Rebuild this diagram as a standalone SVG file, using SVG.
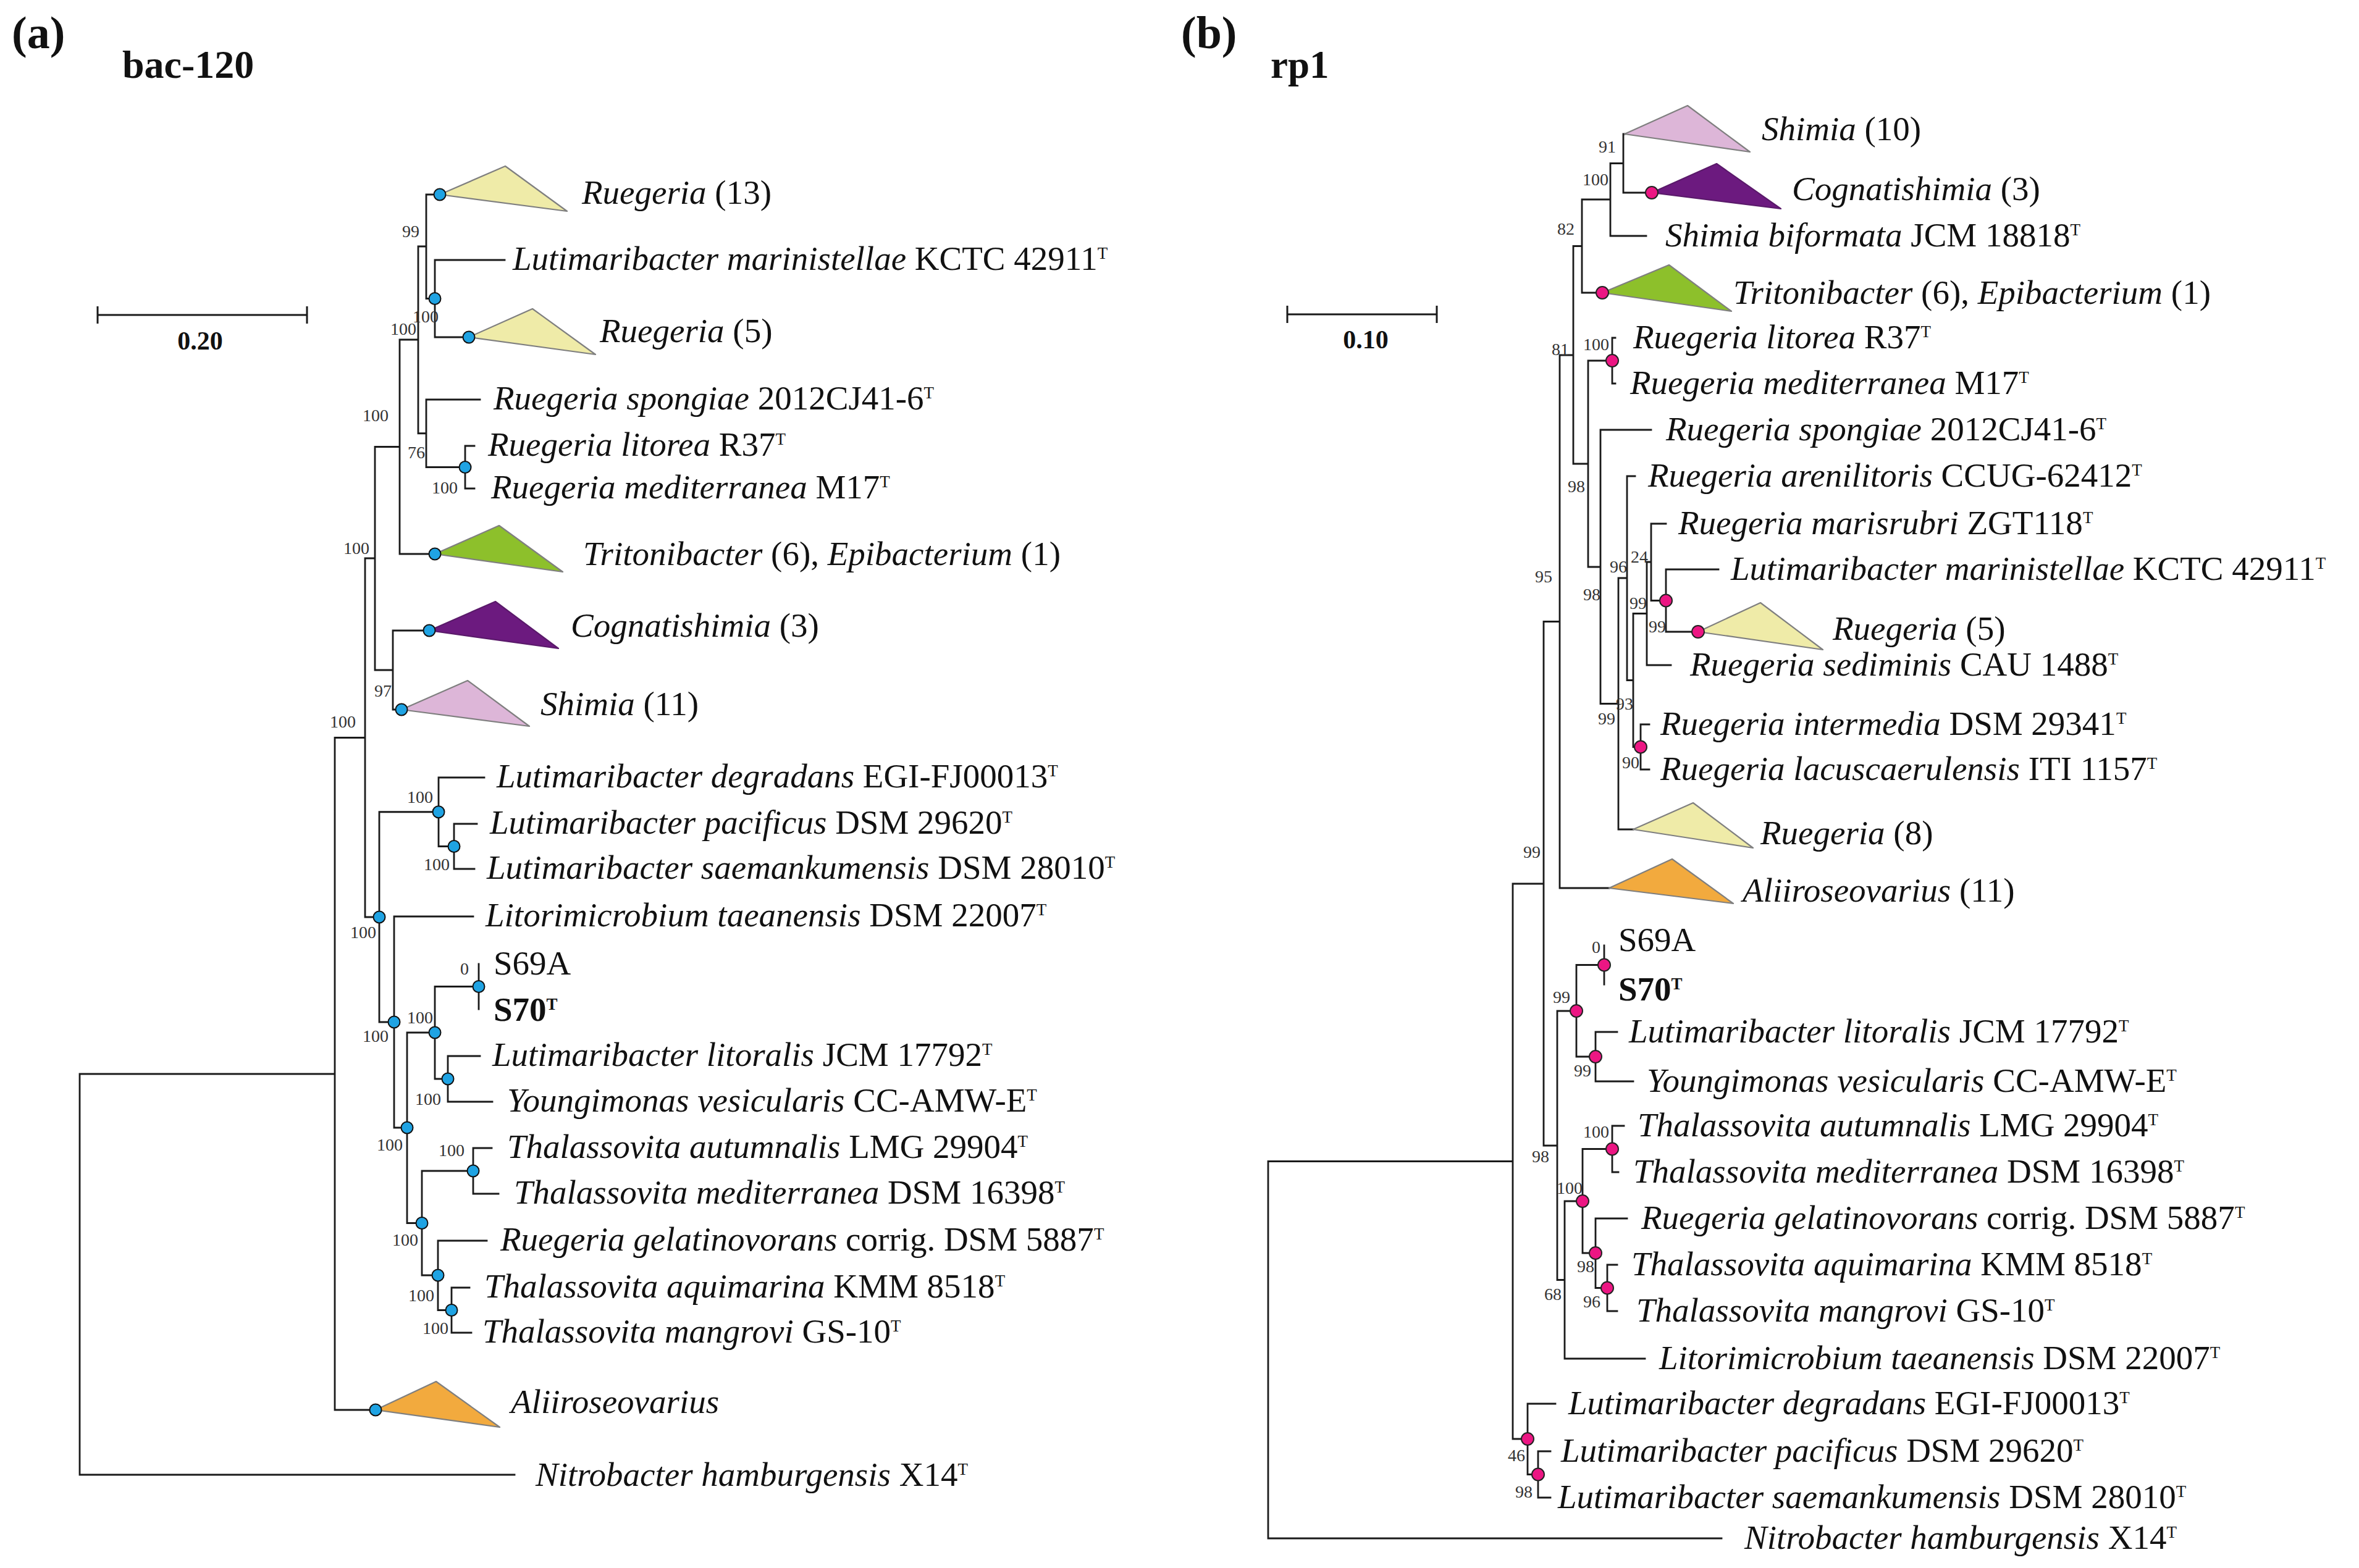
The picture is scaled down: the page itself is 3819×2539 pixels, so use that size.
<svg xmlns="http://www.w3.org/2000/svg" width="3819" height="2539" viewBox="0 0 3819 2539">
<style>
text{font-family:"Liberation Serif","Times New Roman",serif;fill:#111}
.t{font-size:55px}
.i{font-style:italic}
.sup{font-size:27px}
.bs{font-size:28px;fill:#333;text-anchor:end}
.hd{font-weight:bold}
.br{fill:none;stroke:#1a1a1a;stroke-width:2.8;stroke-linecap:square}
.sc{fill:none;stroke:#1a1a1a;stroke-width:3}
.na{fill:#1FA3E3;stroke:#111;stroke-width:2}
.nb{fill:#EC1683;stroke:#222;stroke-width:2}
.tri{stroke:#7f7f7f;stroke-width:2.2;stroke-linejoin:round}
.yel{fill:#EFEBA8}
.grn{fill:#8DC02B}
.pur{fill:#6C1A7F;stroke:#5a1a6a}
.lil{fill:#DDB6D8}
.org{fill:#F2AA3E}
</style>

<!-- Headers -->
<g id="header-a">
<text x="19" y="78" font-size="74" class="hd">(a)</text>
<text x="198" y="126" font-size="64" class="hd">bac-120</text>
</g>
<g id="header-b">
<text x="1912" y="78" font-size="74" class="hd">(b)</text>
<text x="2057" y="126" font-size="63" class="hd">rp1</text>
</g>

<!-- Scale bars -->
<g id="scale-a">
<path class="sc" d="M158,510 H497 M158,496 V524 M497,496 V524"/>
<text x="324" y="566" font-size="42" class="hd" text-anchor="middle">0.20</text>
</g>
<g id="scale-b">
<path class="sc" d="M2084,509 H2326 M2084,495 V523 M2326,495 V523"/>
<text x="2211" y="564" font-size="42" class="hd" text-anchor="middle">0.10</text>
</g>

<!-- Connectors -->
<g id="connectors-a">
<path class="br" d="
M129,1739 V2388 M129,1739 H542 M129,2388 H833
M542,1194.5 V2283 M542,1194.5 H591 M542,2283 H608
M591,904 V1485 M591,904 H607 M591,1485 H614
M607,723.5 V1085 M607,723.5 H647 M607,1085 H636
M647,550 V897 M647,550 H677 M647,897 H704
M677,399 V701.75 M677,399 H690 M677,701.75 H690
M690,315 V483.5 M690,315 H712 M690,483.5 H704
M704,421 V546 M704,421 H817 M704,546 H759
M690,647 V756.5 M690,647 H777 M690,756.5 H753
M753,722 V791 M753,722 H768 M753,791 H768
M636,1021 V1149 M636,1021 H695 M636,1149 H650
M614,1314.75 V1655 M614,1314.75 H710 M614,1655 H638
M710,1259 V1370.5 M710,1259 H784 M710,1370.5 H735
M735,1334 V1407 M735,1334 H772 M735,1407 H768
M638,1484 V1826 M638,1484 H766 M638,1826 H659
M659,1672 V1980.5 M659,1672 H704 M659,1980.5 H683
M704,1597.5 V1747 M704,1597.5 H775 M704,1747 H725
M775,1561 V1634
M725,1710 V1784 M725,1710 H777 M725,1784 H797
M683,1896 V2065 M683,1896 H766 M683,2065 H709
M766,1859 V1933 M766,1859 H796 M766,1933 H807
M709,2009 V2121.5 M709,2009 H788 M709,2121.5 H731
M731,2085 V2158 M731,2085 H760 M731,2158 H763"/>
</g>
<g id="connectors-b">
<path class="br" d="
M2053,1880.5 V2491 M2053,1880.5 H2449 M2053,2491 H2787
M2449,1431 V2330 M2449,1431 H2499 M2449,2330 H2473
M2499,1006.5 V1855 M2499,1006.5 H2525 M2499,1855 H2521
M2525,575 V1438 M2525,575 H2547 M2525,1438 H2605
M2547,398.5 V751 M2547,398.5 H2561 M2547,751 H2571
M2561,323 V474 M2561,323 H2607 M2561,474 H2594
M2607,264.5 V382 M2607,264.5 H2628 M2607,382 H2665
M2628,217 V312 M2628,217 H2630 M2628,312 H2674
M2571,584 V918 M2571,584 H2610 M2571,918 H2591
M2610,547 V621 M2610,547 H2615 M2610,621 H2615
M2591,696 V1139.5 M2591,696 H2673 M2591,1139.5 H2620
M2620,936 V1343 M2620,936 H2634 M2620,1343 H2644
M2634,771 V1101.5 M2634,771 H2647 M2634,1101.5 H2644
M2644,993.5 V1209.5 M2644,993.5 H2666 M2644,1209.5 H2656
M2666,910 V1077 M2666,910 H2673 M2666,1077 H2705
M2673,848 V972.5 M2673,848 H2697 M2673,972.5 H2697
M2697,922 V1023 M2697,922 H2782 M2697,1023 H2749
M2656,1173 V1246 M2656,1173 H2670 M2656,1246 H2670
M2521,1637 V2072.5 M2521,1637 H2552 M2521,2072.5 H2533
M2552,1562.5 V1711 M2552,1562.5 H2597 M2552,1711 H2583
M2597,1531 V1594
M2583,1671 V1751 M2583,1671 H2618 M2583,1751 H2644
M2533,1945 V2200 M2533,1945 H2562 M2533,2200 H2663
M2562,1860.5 V2029 M2562,1860.5 H2610 M2562,2029 H2583
M2610,1823 V1898 M2610,1823 H2629 M2610,1898 H2620
M2583,1973 V2085.5 M2583,1973 H2634 M2583,2085.5 H2602
M2602,2048 V2123 M2602,2048 H2618 M2602,2123 H2618
M2473,2273 V2387.5 M2473,2273 H2518 M2473,2387.5 H2490
M2490,2350 V2425 M2490,2350 H2510 M2490,2425 H2510"/>
</g>

<!-- Panel (a) collapsed clades -->
<g id="a-ruegeria13"><polygon class="tri yel" points="712,315 818,269 918,342"/><circle class="na" cx="712" cy="315" r="9.5"/><text class="t" x="942" y="330"><tspan class="i">Ruegeria</tspan> (13)</text></g>
<g id="a-ruegeria5"><polygon class="tri yel" points="759,546 862,500 964,574"/><circle class="na" cx="759" cy="546" r="9.5"/><text class="t" x="971" y="554"><tspan class="i">Ruegeria</tspan> (5)</text></g>
<g id="a-tritonibacter"><polygon class="tri grn" points="704,897 808,851 911,926"/><circle class="na" cx="704" cy="897" r="9.5"/><text class="t" x="944" y="915"><tspan class="i">Tritonibacter</tspan> (6), <tspan class="i">Epibacterium</tspan> (1)</text></g>
<g id="a-cognatishimia"><polygon class="tri pur" points="695,1021 802,974 904,1050"/><circle class="na" cx="695" cy="1021" r="9.5"/><text class="t" x="924" y="1031"><tspan class="i">Cognatishimia</tspan> (3)</text></g>
<g id="a-shimia"><polygon class="tri lil" points="650,1149 757,1102 857,1176"/><circle class="na" cx="650" cy="1149" r="9.5"/><text class="t" x="875" y="1158"><tspan class="i">Shimia</tspan> (11)</text></g>
<g id="a-aliiroseovarius"><polygon class="tri org" points="608,2283 706,2237 809,2311"/><circle class="na" cx="608" cy="2283" r="9.5"/><text class="t" x="827" y="2288"><tspan class="i">Aliiroseovarius</tspan></text></g>

<!-- Panel (a) internal node markers -->
<g id="a-node-markers">
<circle class="na" cx="704" cy="483.5" r="9.5"/>
<circle class="na" cx="753" cy="756.5" r="9.5"/>
<circle class="na" cx="710" cy="1314.75" r="9.5"/>
<circle class="na" cx="735" cy="1370.5" r="9.5"/>
<circle class="na" cx="614" cy="1485" r="9.5"/>
<circle class="na" cx="638" cy="1655" r="9.5"/>
<circle class="na" cx="775" cy="1597.5" r="9.5"/>
<circle class="na" cx="704" cy="1672" r="9.5"/>
<circle class="na" cx="725" cy="1747" r="9.5"/>
<circle class="na" cx="659" cy="1826" r="9.5"/>
<circle class="na" cx="766" cy="1896" r="9.5"/>
<circle class="na" cx="683" cy="1980.5" r="9.5"/>
<circle class="na" cx="709" cy="2065" r="9.5"/>
<circle class="na" cx="731" cy="2121.5" r="9.5"/>
</g>

<!-- Panel (a) bootstrap values -->
<g id="a-bootstrap">
<text class="bs" x="679" y="384">99</text>
<text class="bs" x="710" y="522">100</text>
<text class="bs" x="674" y="542">100</text>
<text class="bs" x="629" y="682">100</text>
<text class="bs" x="688" y="742">76</text>
<text class="bs" x="741" y="799">100</text>
<text class="bs" x="598" y="897">100</text>
<text class="bs" x="634" y="1128">97</text>
<text class="bs" x="576" y="1178">100</text>
<text class="bs" x="701" y="1300">100</text>
<text class="bs" x="728" y="1409">100</text>
<text class="bs" x="609" y="1519">100</text>
<text class="bs" x="759" y="1578">0</text>
<text class="bs" x="701" y="1657">100</text>
<text class="bs" x="629" y="1687">100</text>
<text class="bs" x="714" y="1789">100</text>
<text class="bs" x="652" y="1863">100</text>
<text class="bs" x="752" y="1872">100</text>
<text class="bs" x="677" y="2017">100</text>
<text class="bs" x="703" y="2107">100</text>
<text class="bs" x="726" y="2160">100</text>
</g>

<!-- Panel (a) leaves -->
<g id="a-lmarinistellae"><text class="t" x="830" y="437"><tspan class="i">Lutimaribacter marinistellae</tspan> KCTC 42911<tspan class="sup" dy="-18">T</tspan></text></g>
<g id="a-rspongiae"><text class="t" x="799" y="663"><tspan class="i">Ruegeria spongiae</tspan> 2012CJ41-6<tspan class="sup" dy="-18">T</tspan></text></g>
<g id="a-rlitorea"><text class="t" x="790" y="738"><tspan class="i">Ruegeria litorea</tspan> R37<tspan class="sup" dy="-18">T</tspan></text></g>
<g id="a-rmediterranea"><text class="t" x="795" y="807"><tspan class="i">Ruegeria mediterranea</tspan> M17<tspan class="sup" dy="-18">T</tspan></text></g>
<g id="a-ldegradans"><text class="t" x="804" y="1275"><tspan class="i">Lutimaribacter degradans</tspan> EGI-FJ00013<tspan class="sup" dy="-18">T</tspan></text></g>
<g id="a-lpacificus"><text class="t" x="793" y="1350"><tspan class="i">Lutimaribacter pacificus</tspan> DSM 29620<tspan class="sup" dy="-18">T</tspan></text></g>
<g id="a-lsaemankumensis"><text class="t" x="788" y="1423"><tspan class="i">Lutimaribacter saemankumensis</tspan> DSM 28010<tspan class="sup" dy="-18">T</tspan></text></g>
<g id="a-ltaeanensis"><text class="t" x="786" y="1500"><tspan class="i">Litorimicrobium taeanensis</tspan> DSM 22007<tspan class="sup" dy="-18">T</tspan></text></g>
<g id="a-s69a"><text class="t" x="799" y="1578">S69A</text></g>
<g id="a-s70"><text class="t hd" x="799" y="1653">S70<tspan class="sup" dy="-18">T</tspan></text></g>
<g id="a-llitoralis"><text class="t" x="797" y="1726"><tspan class="i">Lutimaribacter litoralis</tspan> JCM 17792<tspan class="sup" dy="-18">T</tspan></text></g>
<g id="a-yvesicularis"><text class="t" x="821" y="1800"><tspan class="i">Youngimonas vesicularis</tspan> CC-AMW-E<tspan class="sup" dy="-18">T</tspan></text></g>
<g id="a-tautumnalis"><text class="t" x="821" y="1875"><tspan class="i">Thalassovita autumnalis</tspan> LMG 29904<tspan class="sup" dy="-18">T</tspan></text></g>
<g id="a-tmediterranea"><text class="t" x="832" y="1949"><tspan class="i">Thalassovita mediterranea</tspan> DSM 16398<tspan class="sup" dy="-18">T</tspan></text></g>
<g id="a-rgelatinovorans"><text class="t" x="810" y="2025"><tspan class="i">Ruegeria gelatinovorans</tspan> corrig. DSM 5887<tspan class="sup" dy="-18">T</tspan></text></g>
<g id="a-taquimarina"><text class="t" x="784" y="2101"><tspan class="i">Thalassovita aquimarina</tspan> KMM 8518<tspan class="sup" dy="-18">T</tspan></text></g>
<g id="a-tmangrovi"><text class="t" x="781" y="2174"><tspan class="i">Thalassovita mangrovi</tspan> GS-10<tspan class="sup" dy="-18">T</tspan></text></g>
<g id="a-nhamburgensis"><text class="t" x="867" y="2406"><tspan class="i">Nitrobacter hamburgensis</tspan> X14<tspan class="sup" dy="-18">T</tspan></text></g>

<!-- Panel (b) collapsed clades -->
<g id="b-shimia"><polygon class="tri lil" points="2630,217 2732,171 2833,246"/><text class="t" x="2852" y="227"><tspan class="i">Shimia</tspan> (10)</text></g>
<g id="b-cognatishimia"><polygon class="tri pur" points="2674,312 2779,265 2883,338"/><circle class="nb" cx="2674" cy="312" r="10"/><text class="t" x="2901" y="324"><tspan class="i">Cognatishimia</tspan> (3)</text></g>
<g id="b-tritonibacter"><polygon class="tri grn" points="2594,474 2702,429 2803,504"/><circle class="nb" cx="2594" cy="474" r="10"/><text class="t" x="2806" y="492"><tspan class="i">Tritonibacter</tspan> (6), <tspan class="i">Epibacterium</tspan> (1)</text></g>
<g id="b-ruegeria5"><polygon class="tri yel" points="2749,1023 2850,976 2951,1052"/><circle class="nb" cx="2749" cy="1023" r="10"/><text class="t" x="2967" y="1036"><tspan class="i">Ruegeria</tspan> (5)</text></g>
<g id="b-ruegeria8"><polygon class="tri yel" points="2644,1343 2741,1300 2838,1373"/><text class="t" x="2850" y="1367"><tspan class="i">Ruegeria</tspan> (8)</text></g>
<g id="b-aliiroseovarius"><polygon class="tri org" points="2605,1438 2707,1391 2806,1463"/><text class="t" x="2821" y="1460"><tspan class="i">Aliiroseovarius</tspan> (11)</text></g>

<!-- Panel (b) internal node markers -->
<g id="b-node-markers">
<circle class="nb" cx="2610" cy="584" r="10"/>
<circle class="nb" cx="2697" cy="972.5" r="10"/>
<circle class="nb" cx="2656" cy="1209.5" r="10"/>
<circle class="nb" cx="2597" cy="1562.5" r="10"/>
<circle class="nb" cx="2552" cy="1637" r="10"/>
<circle class="nb" cx="2583" cy="1711" r="10"/>
<circle class="nb" cx="2610" cy="1860.5" r="10"/>
<circle class="nb" cx="2562" cy="1945" r="10"/>
<circle class="nb" cx="2583" cy="2029" r="10"/>
<circle class="nb" cx="2602" cy="2085.5" r="10"/>
<circle class="nb" cx="2473" cy="2330" r="10"/>
<circle class="nb" cx="2490" cy="2387.5" r="10"/>
</g>

<!-- Panel (b) bootstrap values -->
<g id="b-bootstrap">
<text class="bs" x="2616" y="247">91</text>
<text class="bs" x="2604" y="300">100</text>
<text class="bs" x="2549" y="380">82</text>
<text class="bs" x="2540" y="575">81</text>
<text class="bs" x="2605" y="567">100</text>
<text class="bs" x="2566" y="797">98</text>
<text class="bs" x="2668" y="911">24</text>
<text class="bs" x="2634" y="927">96</text>
<text class="bs" x="2513" y="943">95</text>
<text class="bs" x="2591" y="972">98</text>
<text class="bs" x="2666" y="986">99</text>
<text class="bs" x="2697" y="1024">99</text>
<text class="bs" x="2644" y="1149">93</text>
<text class="bs" x="2615" y="1173">99</text>
<text class="bs" x="2654" y="1244">90</text>
<text class="bs" x="2494" y="1389">99</text>
<text class="bs" x="2591" y="1543">0</text>
<text class="bs" x="2542" y="1624">99</text>
<text class="bs" x="2576" y="1743">99</text>
<text class="bs" x="2605" y="1842">100</text>
<text class="bs" x="2508" y="1882">98</text>
<text class="bs" x="2562" y="1933">100</text>
<text class="bs" x="2581" y="2060">98</text>
<text class="bs" x="2528" y="2105">68</text>
<text class="bs" x="2591" y="2117">96</text>
<text class="bs" x="2469" y="2366">46</text>
<text class="bs" x="2481" y="2425">98</text>
</g>

<!-- Panel (b) leaves -->
<g id="b-sbiformata"><text class="t" x="2696" y="399"><tspan class="i">Shimia biformata</tspan> JCM 18818<tspan class="sup" dy="-18">T</tspan></text></g>
<g id="b-rlitorea"><text class="t" x="2644" y="564"><tspan class="i">Ruegeria litorea</tspan> R37<tspan class="sup" dy="-18">T</tspan></text></g>
<g id="b-rmediterranea"><text class="t" x="2639" y="638"><tspan class="i">Ruegeria mediterranea</tspan> M17<tspan class="sup" dy="-18">T</tspan></text></g>
<g id="b-rspongiae"><text class="t" x="2697" y="713"><tspan class="i">Ruegeria spongiae</tspan> 2012CJ41-6<tspan class="sup" dy="-18">T</tspan></text></g>
<g id="b-rarenilitoris"><text class="t" x="2668" y="788"><tspan class="i">Ruegeria arenilitoris</tspan> CCUG-62412<tspan class="sup" dy="-18">T</tspan></text></g>
<g id="b-rmarisrubri"><text class="t" x="2717" y="865"><tspan class="i">Ruegeria marisrubri</tspan> ZGT118<tspan class="sup" dy="-18">T</tspan></text></g>
<g id="b-lmarinistellae"><text class="t" x="2802" y="939"><tspan class="i">Lutimaribacter marinistellae</tspan> KCTC 42911<tspan class="sup" dy="-18">T</tspan></text></g>
<g id="b-rsediminis"><text class="t" x="2736" y="1094"><tspan class="i">Ruegeria sediminis</tspan> CAU 1488<tspan class="sup" dy="-18">T</tspan></text></g>
<g id="b-rintermedia"><text class="t" x="2688" y="1190"><tspan class="i">Ruegeria intermedia</tspan> DSM 29341<tspan class="sup" dy="-18">T</tspan></text></g>
<g id="b-rlacuscaerulensis"><text class="t" x="2688" y="1263"><tspan class="i">Ruegeria lacuscaerulensis</tspan> ITI 1157<tspan class="sup" dy="-18">T</tspan></text></g>
<g id="b-s69a"><text class="t" x="2620" y="1540">S69A</text></g>
<g id="b-s70"><text class="t hd" x="2620" y="1620">S70<tspan class="sup" dy="-18">T</tspan></text></g>
<g id="b-llitoralis"><text class="t" x="2637" y="1688"><tspan class="i">Lutimaribacter litoralis</tspan> JCM 17792<tspan class="sup" dy="-18">T</tspan></text></g>
<g id="b-yvesicularis"><text class="t" x="2666" y="1768"><tspan class="i">Youngimonas vesicularis</tspan> CC-AMW-E<tspan class="sup" dy="-18">T</tspan></text></g>
<g id="b-tautumnalis"><text class="t" x="2651" y="1840"><tspan class="i">Thalassovita autumnalis</tspan> LMG 29904<tspan class="sup" dy="-18">T</tspan></text></g>
<g id="b-tmediterranea"><text class="t" x="2644" y="1915"><tspan class="i">Thalassovita mediterranea</tspan> DSM 16398<tspan class="sup" dy="-18">T</tspan></text></g>
<g id="b-rgelatinovorans"><text class="t" x="2657" y="1990"><tspan class="i">Ruegeria gelatinovorans</tspan> corrig. DSM 5887<tspan class="sup" dy="-18">T</tspan></text></g>
<g id="b-taquimarina"><text class="t" x="2641" y="2065"><tspan class="i">Thalassovita aquimarina</tspan> KMM 8518<tspan class="sup" dy="-18">T</tspan></text></g>
<g id="b-tmangrovi"><text class="t" x="2649" y="2140"><tspan class="i">Thalassovita mangrovi</tspan> GS-10<tspan class="sup" dy="-18">T</tspan></text></g>
<g id="b-ltaeanensis"><text class="t" x="2686" y="2217"><tspan class="i">Litorimicrobium taeanensis</tspan> DSM 22007<tspan class="sup" dy="-18">T</tspan></text></g>
<g id="b-ldegradans"><text class="t" x="2539" y="2290"><tspan class="i">Lutimaribacter degradans</tspan> EGI-FJ00013<tspan class="sup" dy="-18">T</tspan></text></g>
<g id="b-lpacificus"><text class="t" x="2527" y="2367"><tspan class="i">Lutimaribacter pacificus</tspan> DSM 29620<tspan class="sup" dy="-18">T</tspan></text></g>
<g id="b-lsaemankumensis"><text class="t" x="2522" y="2442"><tspan class="i">Lutimaribacter saemankumensis</tspan> DSM 28010<tspan class="sup" dy="-18">T</tspan></text></g>
<g id="b-nhamburgensis"><text class="t" x="2824" y="2508"><tspan class="i">Nitrobacter hamburgensis</tspan> X14<tspan class="sup" dy="-18">T</tspan></text></g>
</svg>
